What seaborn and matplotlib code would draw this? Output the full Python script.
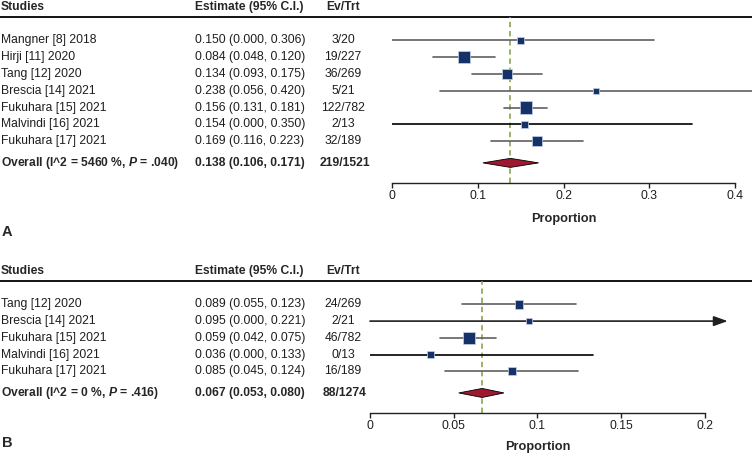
import numpy as np
import pandas as pd
import seaborn as sns
import matplotlib.pyplot as plt
from matplotlib.patches import Polygon

# Panel A data
studies_a = ["Mangner [8] 2018", "Hirji [11] 2020", "Tang [12] 2020", "Brescia [14] 2021",
             "Fukuhara [15] 2021", "Malvindi [16] 2021", "Fukuhara [17] 2021"]
est_a = [0.150, 0.084, 0.134, 0.238, 0.156, 0.154, 0.169]
lo_a = [0.000, 0.048, 0.093, 0.056, 0.131, 0.000, 0.116]
hi_a = [0.306, 0.120, 0.175, 0.420, 0.181, 0.350, 0.223]
evtrt_a = ["3/20", "19/227", "36/269", "5/21", "122/782", "2/13", "32/189"]
weight_a = [0.25, 0.84, 0.63, 0.17, 1.00, 0.25, 0.56]
overall_a = (0.138, 0.106, 0.171)
overall_lab_a = "Overall (I^2 = 5460 %, $P$ = .040)"
overall_ev_a = "219/1521"

# Panel B data
studies_b = ["Tang [12] 2020", "Brescia [14] 2021", "Fukuhara [15] 2021",
             "Malvindi [16] 2021", "Fukuhara [17] 2021"]
est_b = [0.089, 0.095, 0.059, 0.036, 0.085]
lo_b = [0.055, 0.000, 0.042, 0.000, 0.045]
hi_b = [0.123, 0.221, 0.075, 0.133, 0.124]
evtrt_b = ["24/269", "2/21", "46/782", "0/13", "16/189"]
weight_b = [0.44, 0.14, 0.84, 0.25, 0.36]
overall_b = (0.067, 0.053, 0.080)
overall_lab_b = "Overall (I^2 = 0 %, $P$ = .416)"
overall_ev_b = "88/1274"

sns.set_theme(style="white")
plt.rcParams["font.family"] = ["Liberation Sans", "DejaVu Sans"]
plt.rcParams["mathtext.fontset"] = "custom"
plt.rcParams["mathtext.it"] = "Liberation Sans:italic:bold"
plt.rcParams["mathtext.rm"] = "Liberation Sans:bold"

NAVY = "#143268"
RED = "#9e1830"
GREEN = "#7e9e3e"
W, H = 752, 470

fig = plt.figure(figsize=(7.52, 4.70), dpi=100)


def forest(top, bottom, x0, xmax, bound, ticks, ticklabels, studies, est, lo, hi, evtrt,
           weight, overall, overall_lab, overall_ev, letter, letter_y, clip=None):
    n = len(studies)
    df = pd.DataFrame({"study": studies, "est": est, "lo": lo, "hi": hi,
                       "ev": evtrt, "w": weight, "row": np.arange(n)})
    ylim = (n + 1.5, -1.4)
    rect = [0, 1 - bottom / H, 1, (bottom - top) / H]
    tax = fig.add_axes(rect)
    tax.set_xlim(0, W)
    tax.set_ylim(*ylim)
    tax.axis("off")
    tax.axhline(-1.4, color="black", lw=1.3, clip_on=False)
    hy = -2.0
    fs = 8.7
    tc = "#1e1e1e"
    tax.text(1, hy, "Studies", fontsize=fs, fontweight="bold", va="center")
    tax.text(195, hy, "Estimate (95% C.I.)", fontsize=fs, fontweight="bold", va="center")
    tax.text(343, hy, "Ev/Trt", fontsize=fs, fontweight="bold", va="center", ha="center")
    for _, r in df.iterrows():
        tax.text(1, r.row, r.study, fontsize=fs, va="center", color=tc)
        tax.text(195, r.row, f"{r.est:.3f} ({r.lo:.3f}, {r.hi:.3f})", fontsize=fs,
                 va="center", color=tc)
        tax.text(343, r.row, r.ev, fontsize=fs, va="center", ha="center", color=tc)
    oy = n + 0.3
    tax.text(1, oy, overall_lab, fontsize=fs, fontweight="bold", va="center")
    tax.text(195, oy, f"{overall[0]:.3f} ({overall[1]:.3f}, {overall[2]:.3f})",
             fontsize=fs, fontweight="bold", va="center")
    tax.text(345, oy, overall_ev, fontsize=fs, fontweight="bold", va="center", ha="center")
    tax.text(2, letter_y, letter, fontsize=10.5, fontweight="bold", va="center")

    ax = fig.add_axes([x0 / W, 1 - bottom / H, (W - x0) / W, (bottom - top) / H])
    ax.patch.set_alpha(0)
    ax.set_xlim(0, xmax)
    ax.set_ylim(*ylim)
    for s in ["left", "right", "top"]:
        ax.spines[s].set_visible(False)
    ax.spines["bottom"].set_bounds(0, bound)
    ax.spines["bottom"].set_color("#222222")
    ax.spines["bottom"].set_linewidth(1.0)

    for _, r in df.iterrows():
        col = "black" if r.study.startswith("Malvindi") else "#606060"
        if clip is not None and r.hi > clip:
            ax.annotate("", xy=(clip, r.row), xytext=(r.lo, r.row),
                        arrowprops=dict(arrowstyle="-|>,head_length=0.7,head_width=0.25",
                                        color="#202020", lw=1.2, shrinkA=0, shrinkB=0))
        else:
            ax.plot([r.lo, r.hi], [r.row, r.row], color=col, lw=1.2, zorder=2)
    sns.scatterplot(data=df, x="est", y="row", size="w", sizes=(8, 80),
                    size_norm=(0.0, 1.0), marker="s", color=NAVY, edgecolor="#c8d2e6",
                    linewidth=0.5, legend=False, ax=ax, zorder=3)
    ax.set_yticks([])
    ax.set_ylabel("")
    ax.set_xticks(ticks)
    ax.set_xticklabels(ticklabels, fontsize=8.8, color=tc)
    ax.tick_params(axis="x", bottom=True, length=3.5, width=1.0, color="#222222", pad=1.5)
    ax.set_xlabel("Proportion", fontsize=9.2, fontweight="bold")
    e, l, h = overall
    ax.add_patch(Polygon([[l, oy], [e, oy - 0.27], [h, oy], [e, oy + 0.27]],
                         closed=True, facecolor=RED, edgecolor="black", lw=0.6, zorder=3))
    ax.axvline(e, color=GREEN, ls=(0, (3.5, 2.5)), lw=1.1, zorder=1)
    return ax


ax_a = forest(17, 183, 392, 0.4198, 0.4, [0, 0.1, 0.2, 0.3, 0.4],
              ["0", "0.1", "0.2", "0.3", "0.4"], studies_a, est_a, lo_a, hi_a, evtrt_a,
              weight_a, overall_a, overall_lab_a, overall_ev_a, "A", 11.4)
ax_a.xaxis.set_label_coords(0.2 / 0.4198, -0.18)

ax_b = forest(281, 413, 370, 0.2282, 0.2, [0, 0.05, 0.1, 0.15, 0.2],
              ["0", "0.05", "0.1", "0.15", "0.2"], studies_b, est_b, lo_b, hi_b, evtrt_b,
              weight_b, overall_b, overall_lab_b, overall_ev_b, "B", 8.3, clip=0.2137)
ax_b.xaxis.set_label_coords(0.1 / 0.2282, -0.21)

fig.savefig("out.png", dpi=100)
